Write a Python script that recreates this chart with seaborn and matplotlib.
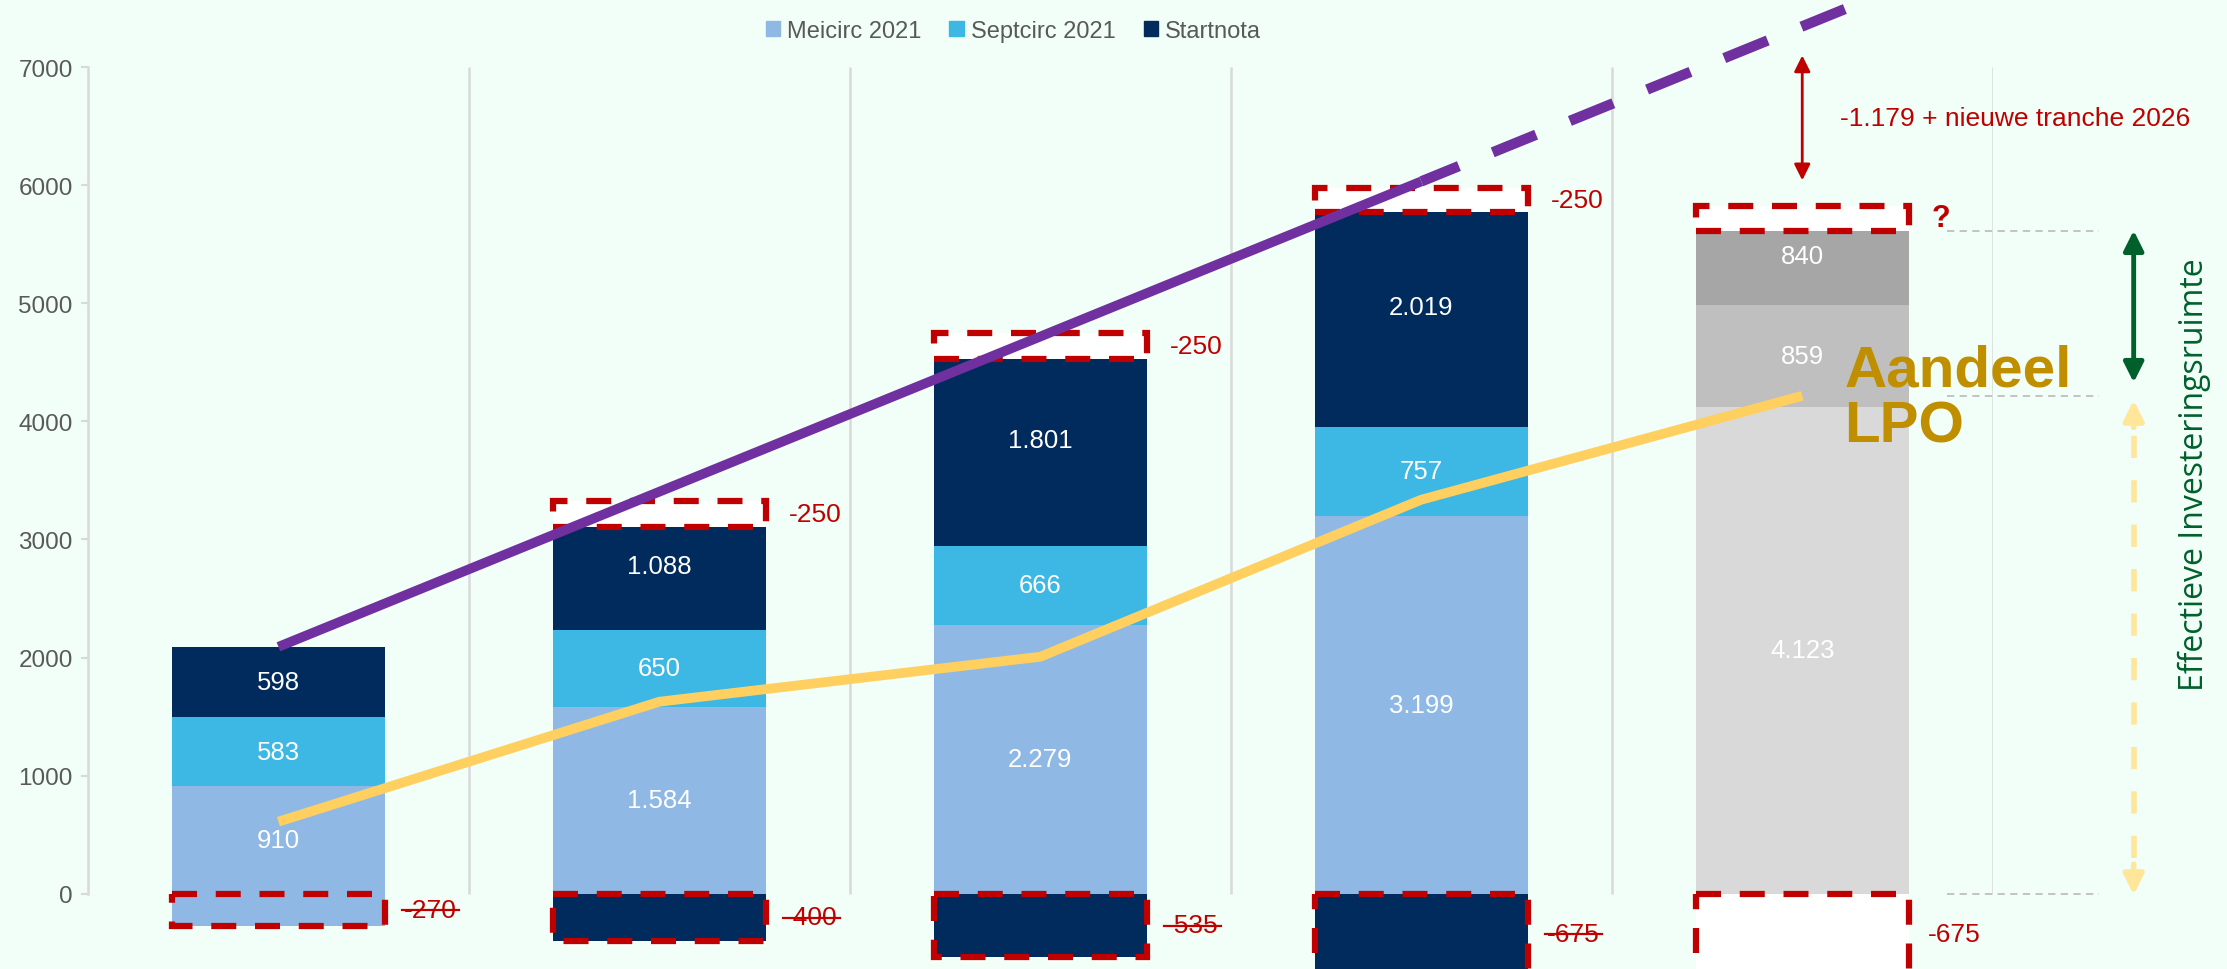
import numpy as np
import pandas as pd
import matplotlib.pyplot as plt
import seaborn as sns
from matplotlib.patches import Patch
from matplotlib.lines import Line2D

# jaren en bedragen per circulaire
years = ["2022", "2023", "2024", "2025", "2026"]
meicirc = [910, 1584, 2279, 3199]
septcirc = [583, 650, 666, 757]
startnota = [598, 1088, 1801, 2019]
grey_2026 = [4123, 859, 840]   # aandeel LPO + twee grijze blokken

# witte blokken bovenop (getekend zoals in de dia, label -250)
top_cut = [0, 215, 215, 200, 205]
top_labels = ["", "-250", "-250", "-250", "?"]
bottom_cut = [-270, -400, -535, -675, -675]
bottom_labels = ["-270", "-400", "-535", "-675", "-675"]
bottom_struck = [True, True, True, True, False]

budget_line = [2091, 3405, 4719, 6033]
budget_trend_x = [3, 4.3]
budget_trend = [6033, 7740]
lpo_line = [610, 1626, 2007, 3337, 4217]
ruimte_top = 5617

c_mei = "#8fb9e4"
c_sept = "#3db7e4"
c_start = "#002b5c"
c_grey = ["#d9d9d9", "#bfbfbf", "#a6a6a6"]
red = "#c00000"
bg = "#f1fff8"

plt.rcParams['font.family'] = ['Liberation Sans', 'DejaVu Sans']

lvl1 = np.array(meicirc + [grey_2026[0]])
lvl2 = lvl1 + np.array(septcirc + [grey_2026[1]])
lvl3 = lvl2 + np.array(startnota + [grey_2026[2]])
df = pd.DataFrame({"jaar": years, "l1": lvl1, "l2": lvl2, "l3": lvl3, "neg": bottom_cut})

fig = plt.figure(figsize=(22.27, 9.70), dpi=100, facecolor=bg)
ax = fig.add_axes([0.0395, 0.0, 0.8553, 1.0])
ax.set_facecolor("none")

bw = 0.56
common = dict(data=df, x="jaar", hue="jaar", legend=False, width=bw, errorbar=None,
              ax=ax, saturation=1)
# gestapelde balken: van totaal naar onder overschilderen
sns.barplot(y="l3", palette=[c_start] * 4 + [c_grey[2]], zorder=2, linewidth=0, **common)
sns.barplot(y="l2", palette=[c_sept] * 4 + [c_grey[1]], zorder=2, linewidth=0, **common)
sns.barplot(y="l1", palette=[c_mei] * 4 + [c_grey[0]], zorder=2, linewidth=0, **common)
# negatieve blokken
sns.barplot(y="neg", palette=[c_mei, c_start, c_start, c_start, "white"], zorder=3,
            edgecolor=red, linewidth=4.5, linestyle=(0, (4, 3)), **common)

x = np.arange(len(years))
# witte gestippelde blokken bovenop
for i in x:
    if top_cut[i] > 0:
        ax.bar(i, top_cut[i], bottom=lvl3[i] - top_cut[i], width=bw, color="white",
               edgecolor=red, linewidth=4.5, linestyle=(0, (4, 3)), zorder=3)

# labels in de balken
def fmt(v):
    return f"{v:,}".replace(",", ".")

segs = [(lvl1, lvl1 * 0), (lvl2 - lvl1, lvl1), (lvl3 - lvl2, lvl2)]
for vals, bottoms in segs:
    for i in x:
        ax.text(i, bottoms[i] + vals[i] / 2, fmt(int(vals[i])), ha="center", va="center",
                color="white", fontsize=18.5, zorder=6)

for i in x:
    if top_labels[i]:
        bold = top_labels[i] == "?"
        ax.text(i + bw / 2 + 0.06, lvl3[i] - top_cut[i] / 2, top_labels[i], ha="left", va="center",
                color=red, fontsize=22 if bold else 19, fontweight="bold" if bold else "normal", zorder=6)

neg_texts = []
for i in x:
    t = ax.text(i + bw / 2 + 0.05, bottom_cut[i] / 2, bottom_labels[i], ha="left", va="center",
                color=red, fontsize=19, zorder=6)
    if bottom_struck[i]:
        neg_texts.append(t)

# lijnen
sns.lineplot(x=x[:4], y=budget_line, color="#7030a0", lw=7, ax=ax, zorder=7,
             solid_capstyle="butt")
sns.lineplot(x=budget_trend_x, y=budget_trend, color="#7030a0", lw=7.5, ax=ax, zorder=7,
             linestyle=(0.6, (4.5, 3.5)), dash_capstyle="butt")
sns.lineplot(x=x, y=lpo_line, color="#ffd060", lw=7, ax=ax, zorder=5, solid_capstyle="butt")

ax.text(4.11, lpo_line[-1] - 20, "Aandeel\nLPO", ha="left", va="center", color="#bf8f00",
        fontsize=42, fontweight="bold", linespacing=1.05, zorder=8)

# rasterlijnen en as
ax.vlines(np.arange(0.5, 5, 1), 0, 7000, color="#d9d9d9", lw=1.8, zorder=0)
for s in ["top", "right", "bottom"]:
    ax.spines[s].set_visible(False)
ax.spines["left"].set_bounds(0, 7000)
ax.spines["left"].set_color("#d9d9d9")
ax.spines["left"].set_linewidth(1.8)
ax.set_yticks(range(0, 7001, 1000))
ax.tick_params(axis="y", colors="#d9d9d9", length=5, width=1.5, labelcolor="#595959",
               labelsize=17.5, pad=6)
ax.set_xticks([])
ax.set_xlabel("")
ax.set_ylabel("")
ax.set_xlim(-0.5, 4.5)
ax.set_ylim(-638, 7578)

# annotaties rechts
ax.annotate("", xy=(4, 7100), xytext=(4, lvl3[4] + 220),
            arrowprops=dict(arrowstyle="<|-|>", color=red, lw=2, mutation_scale=24,
                            shrinkA=0, shrinkB=0), annotation_clip=False)
ax.text(4.1, 6566, "-1.179 + nieuwe tranche 2026", color=red, fontsize=19,
        ha="left", va="center", zorder=8, clip_on=False)

for lvl in [ruimte_top, lpo_line[-1], 0]:
    ax.plot([4.38, 4.78], [lvl, lvl], color="#bfbfbf", lw=1.3, ls=(0, (4, 3)), clip_on=False)

xa = 4.87
ax.annotate("", xy=(xa, ruimte_top), xytext=(xa, 4330),
            arrowprops=dict(arrowstyle="<|-|>", color="#00602b", lw=3.5, mutation_scale=30,
                            shrinkA=0, shrinkB=0), annotation_clip=False)
ax.plot([xa, xa], [300, 3950], color="#ffe699", lw=4, ls=(0, (4, 4)), clip_on=False)
ax.annotate("", xy=(xa, 4180), xytext=(xa, 3950),
            arrowprops=dict(arrowstyle="-|>", color="#ffe699", lw=4, mutation_scale=30,
                            shrinkA=0, shrinkB=0), annotation_clip=False)
ax.annotate("", xy=(xa, -10), xytext=(xa, 250),
            arrowprops=dict(arrowstyle="-|>", color="#ffe699", lw=4, mutation_scale=30,
                            shrinkA=0, shrinkB=0), annotation_clip=False)
ax.text(5.03, 3560, "Effectieve Investeringsruimte", rotation=90, ha="center", va="center",
        color="#00602b", fontsize=23, family=["Open Sans", "DejaVu Sans"], clip_on=False)

# legenda
handles = [Patch(color=c_mei), Patch(color=c_sept), Patch(color=c_start)]
fig.legend(handles, ["Meicirc 2021", "Septcirc 2021", "Startnota"], loc="upper center",
           bbox_to_anchor=(0.455, 1.0), ncol=3, frameon=False, fontsize=17,
           handlelength=0.6, handleheight=0.6, handletextpad=0.3, columnspacing=1.2,
           labelcolor="#595959")

# doorhalen van de oude negatieve bedragen
fig.canvas.draw()
inv = fig.transFigure.inverted()
for t in neg_texts:
    bb = t.get_window_extent()
    ym = bb.y0 + 0.47 * bb.height
    p0 = inv.transform((bb.x0 - 2, ym))
    p1 = inv.transform((bb.x1 + 2, ym))
    fig.add_artist(Line2D([p0[0], p1[0]], [p0[1], p1[1]], color=red, lw=1.6))

fig.savefig("out.png", dpi=100, facecolor=bg)
